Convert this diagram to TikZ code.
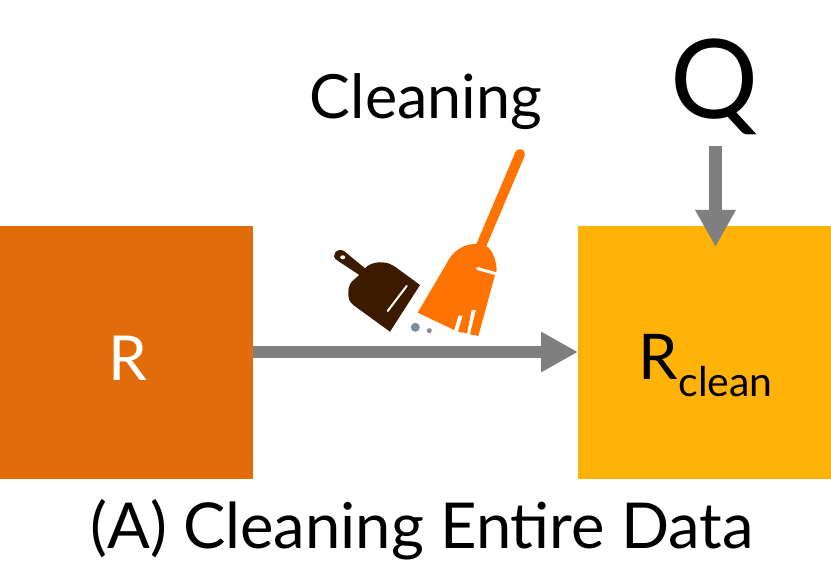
\documentclass[tikz,border=0pt]{standalone}
\usepackage{fontspec}
\setmainfont{Lato}
\usetikzlibrary{arrows.meta}
\definecolor{rbox}{HTML}{E36C0A}
\definecolor{cbox}{HTML}{FFB208}
\definecolor{arr}{HTML}{7F7F7F}
\definecolor{broom}{HTML}{FF7300}
\definecolor{pan}{HTML}{3B1A00}
\definecolor{dust}{HTML}{7F8C99}
\tikzset{
  px/.style={x=1pt,y=-1pt},
  databox/.style={minimum width=253pt,minimum height=252.5pt,inner sep=0pt,outer sep=0pt},
  flow/.style={draw=arr,line width=12.5pt,-{Triangle[length=37pt,width=38pt]}},
  lab/.style={inner sep=0pt}
}
\begin{document}
\begin{tikzpicture}[px]
\useasboundingbox (0,0) rectangle (831,575);
\fill[white] (0,0) rectangle (831,575);
\node[databox,fill=rbox,anchor=north west] (r) at (0,226) {};
\node[databox,fill=cbox,anchor=north west] (c) at (578,226) {};
\node[lab,text=white,font=\fontsize{62}{62}\selectfont] at (127.5,358) {R};
\node[lab,anchor=base west,font=\fontsize{63}{63}\selectfont] at (638,379) {R\kern1pt\raisebox{-17pt}{\fontsize{41}{41}\selectfont clean}};
\node[lab,font=\fontsize{61}{61}\selectfont] (clean) at (426,102) {Cleaning};
\node[lab,font=\fontsize{110}{110}\selectfont] (q) at (714.5,87) {Q};
\coordinate (qs) at (715.5,146.5);
\coordinate (qe) at (715.5,247);
\draw[draw=arr,line width=13pt,-{Triangle[length=37pt,width=38pt]}] (qs) -- (qe);
\draw[flow] (r.east |- 0,352) -- (c.west |- 0,352);
\node[lab,font=\fontsize{63.3}{64}\selectfont] at (422,530) {(A) Cleaning Entire Data};
% broom
\draw[broom,line width=10pt,line cap=round] (520,154) -- (481,246);
\fill[broom] (417.7,312.7) -- (454.3,330) -- (458.3,315.7) -- (462.7,315.7) -- (458,331.7) -- (467,333.3) -- (471.7,310) -- (476,310) -- (470,334.3) -- (478.3,336) -- (495,275) -- (496.7,270) .. controls (496,260) and (493,252) .. (488.3,247.3) .. controls (484,245) and (478,244) .. (473.3,244) .. controls (462,245) and (452,252) .. (446.7,263.3) -- cycle;
\draw[white,line width=3pt,line cap=round] (477.5,268.5) -- (495,273.5);
% dustpan
\fill[pan] (420,285) -- (390,331.7) -- (353.3,305) .. controls (349,301) and (348,298) .. (348.3,295) .. controls (348,289) and (349,285) .. (351.7,281.7) -- (359.3,275) -- (336.7,260) .. controls (334,258) and (333,255) .. (335,253) .. controls (337,250) and (341,249) .. (344,251) -- (365,268.3) .. controls (368,265) and (371,264) .. (373.3,263.3) .. controls (378,262) and (382,262) .. (385,262.7) .. controls (389,263) and (392,265) .. (395,266.7) -- cycle;
\fill[white] (342.7,257.3) ellipse (2.5 and 2);
\draw[white,line width=2pt,line cap=round] (406.7,286) -- (387.7,311);
\fill[dust] (415.3,327.3) circle (4.5);
\fill[dust] (429.3,330.7) circle (2.5);
\end{tikzpicture}
\end{document}
